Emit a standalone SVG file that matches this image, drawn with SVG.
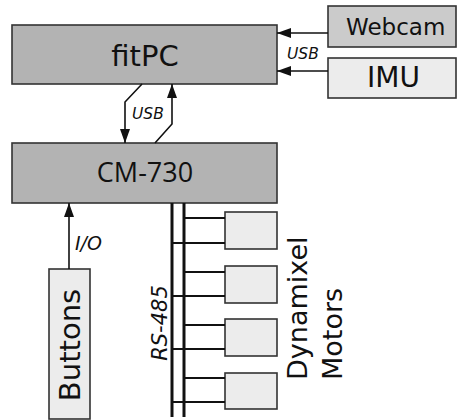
<svg xmlns="http://www.w3.org/2000/svg" width="457" height="420" viewBox="0 0 457 420">
<defs>
<style>
.box{stroke:#333;stroke-width:1.6}
.dark{fill:#b3b3b3}
.mid{fill:#cbcbcb}
.light{fill:#ececec}
.t{font-family:"DejaVu Sans",sans-serif;fill:#111}
.it{font-family:"DejaVu Sans",sans-serif;font-style:italic;fill:#111}
.ln{stroke:#111;stroke-width:1.6;fill:none}
.bus{stroke:#111;stroke-width:3;fill:none}
.cn{stroke:#111;stroke-width:2;fill:none}
</style>
<marker id="ah" viewBox="0 0 14 10" refX="14" refY="5" markerWidth="14" markerHeight="10" markerUnits="userSpaceOnUse" orient="auto">
<path d="M0,0 L14,5 L0,10 Z" fill="#111"/>
</marker>
</defs>
<rect width="457" height="420" fill="#fff"/>
<g id="fitPC">
<rect class="box dark" x="12" y="25" width="265" height="59"/>
<text class="t" x="145" y="66" font-size="29" text-anchor="middle">fitPC</text>
</g>
<g id="webcam">
<rect class="box mid" x="328" y="6" width="128" height="41"/>
<text class="t" x="346" y="35" font-size="23">Webcam</text>
</g>
<g id="imu">
<rect class="box light" x="328" y="58" width="128" height="40"/>
<text class="t" x="367" y="87" font-size="28">IMU</text>
</g>
<g id="cm730">
<rect class="box dark" x="12" y="143" width="265" height="60"/>
<text class="t" x="145" y="182" font-size="27" text-anchor="middle" style="font-family:'Open Sans',sans-serif">CM-730</text>
</g>
<g id="buttons">
<rect class="box light" x="49" y="269" width="41" height="150"/>
<text class="t" font-size="29" text-anchor="middle" transform="translate(80,345) rotate(-90)">Buttons</text>
</g>
<g id="motor1"><rect class="box light" x="225" y="212" width="52" height="37"/></g>
<g id="motor2"><rect class="box light" x="225" y="266" width="52" height="37"/></g>
<g id="motor3"><rect class="box light" x="225" y="319" width="52" height="37"/></g>
<g id="motor4"><rect class="box light" x="225" y="373" width="52" height="36"/></g>
<g id="motors-label">
<text class="t" font-size="27" transform="translate(307,380) rotate(-90)">Dynamixel</text>
<text class="t" font-size="27" transform="translate(342,380) rotate(-90)">Motors</text>
</g>
<g id="connectors">
<line class="ln" x1="328" y1="33" x2="277" y2="33" marker-end="url(#ah)"/>
<line class="ln" x1="328" y1="71" x2="277" y2="71" marker-end="url(#ah)"/>
<text class="it" x="287" y="59" font-size="15.5">USB</text>
<polyline class="ln" points="142,84 125,102 125,143" marker-end="url(#ah)"/>
<polyline class="ln" points="155,143 172,124 172,84" marker-end="url(#ah)"/>
<text class="it" x="132" y="119" font-size="15.5">USB</text>
<line class="ln" x1="69" y1="269" x2="69" y2="203" marker-end="url(#ah)"/>
<text class="it" x="75" y="250" font-size="19">I/O</text>
<line class="bus" x1="172" y1="203" x2="172" y2="417"/>
<line class="bus" x1="184" y1="203" x2="184" y2="417"/>
<text class="it" font-size="21" text-anchor="middle" transform="translate(167,323) rotate(-90)">RS-485</text>
<line class="cn" x1="184" y1="218" x2="225" y2="218"/>
<line class="cn" x1="172" y1="243" x2="225" y2="243"/>
<line class="cn" x1="184" y1="272" x2="225" y2="272"/>
<line class="cn" x1="172" y1="296" x2="225" y2="296"/>
<line class="cn" x1="184" y1="325" x2="225" y2="325"/>
<line class="cn" x1="172" y1="349" x2="225" y2="349"/>
<line class="cn" x1="184" y1="378" x2="225" y2="378"/>
<line class="cn" x1="172" y1="402" x2="225" y2="402"/>
</g>
</svg>
